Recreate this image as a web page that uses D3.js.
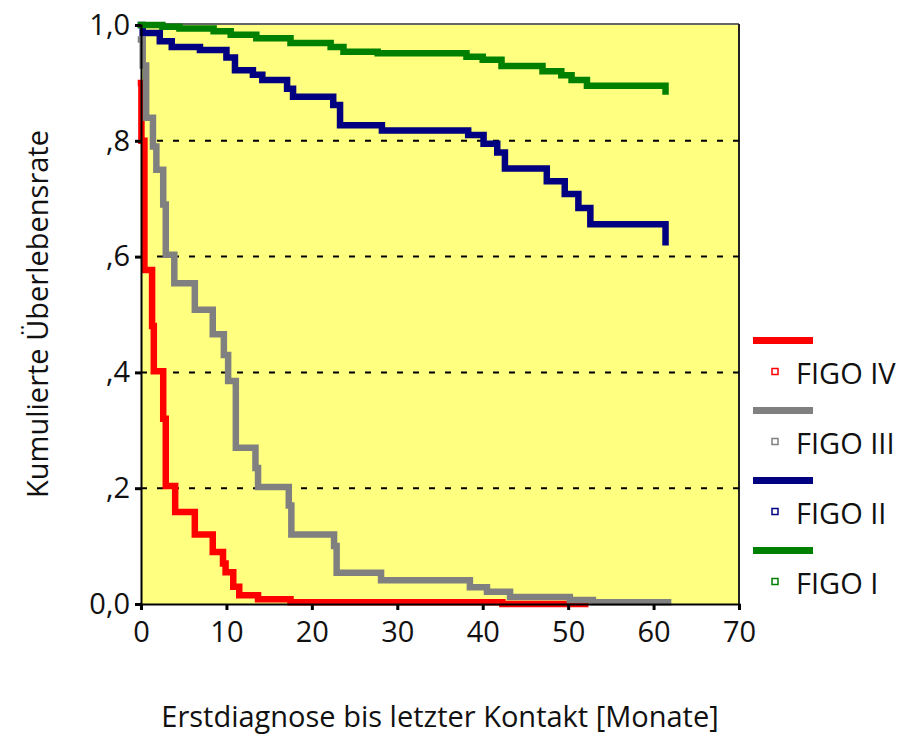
<!DOCTYPE html>
<html>
<head>
<meta charset="utf-8">
<script src="https://cdn.jsdelivr.net/npm/d3@7"></script>
<style>
  body { margin: 0; background: #fff; }
  text { font-family: "Open Sans", sans-serif; fill: #111; }
</style>
</head>
<body>
<div class="chart"></div>
<script>
// survival curves (months, cumulative survival)
var figo4Times = [0, 0.05, 0.4, 1.3, 1.5, 2.6, 2.9, 4.0, 6.3, 8.4, 9.6, 9.9, 10.8, 11.5, 13.7, 17.5, 42.3, 52];
var figo4Surv  = [0.90, 0.80, 0.577, 0.48, 0.402, 0.32, 0.204, 0.159, 0.12, 0.09, 0.07, 0.055, 0.03, 0.015, 0.008, 0.003, 0.0, 0.0];

var figo3Times = [0, 0.2, 0.6, 1.4, 1.8, 2.6, 2.9, 3.9, 6.3, 8.4, 9.7, 10.2, 11.1, 13.4, 13.7, 17.3, 17.6, 22.6, 22.9, 28.1, 38.5, 40.5, 43.2, 50.2, 52.9, 61.7];
var figo3Surv  = [0.975, 0.93, 0.84, 0.79, 0.75, 0.69, 0.603, 0.554, 0.508, 0.466, 0.43, 0.385, 0.27, 0.235, 0.202, 0.17, 0.12, 0.10, 0.054, 0.041, 0.029, 0.021, 0.012, 0.007, 0.003, 0.003];

var figo2Times = [0, 0.2, 2.2, 3.6, 6.9, 10.0, 11.0, 13.1, 14.2, 17.1, 17.8, 22.5, 23.3, 28.2, 38.3, 40.1, 41.7, 42.6, 47.5, 49.6, 51.2, 52.6, 61.4];
var figo2Surv  = [1.0, 0.986, 0.972, 0.962, 0.957, 0.944, 0.922, 0.914, 0.905, 0.89, 0.876, 0.862, 0.827, 0.818, 0.81, 0.795, 0.78, 0.752, 0.73, 0.708, 0.684, 0.656, 0.625];

var figo1Times = [0, 2.5, 4.5, 8.5, 10.5, 13.5, 17.5, 22.2, 23.7, 27.7, 38.1, 40, 42.2, 47, 49.2, 50.4, 52.2, 61.4];
var figo1Surv  = [1.0, 0.997, 0.994, 0.989, 0.983, 0.977, 0.969, 0.962, 0.954, 0.951, 0.945, 0.94, 0.929, 0.92, 0.913, 0.905, 0.895, 0.885];

var groupNames  = ["FIGO IV", "FIGO III", "FIGO II", "FIGO I"];
var groupColors = ["#ff0000", "#808080", "#000080", "#008000"];

var xTicks = [0, 10, 20, 30, 40, 50, 60, 70];
var yTicks = [0, 0.2, 0.4, 0.6, 0.8, 1.0];
var yTickLabels = ["0,0", ",2", ",4", ",6", ",8", "1,0"];
var gridValues = [0.2, 0.4, 0.6, 0.8];

var svgWidth = 903;
var svgHeight = 736;

var margin = { top: 25, right: 164, bottom: 132, left: 141 };
var chartWidth = svgWidth - margin.left - margin.right;
var chartHeight = svgHeight - margin.top - margin.bottom;

var svg = d3.select(".chart")
  .append("svg")
  .attr("width", svgWidth)
  .attr("height", svgHeight);

var chartGroup = svg.append("g")
  .attr("transform", `translate(${margin.left}, ${margin.top})`);

var x = d3.scaleLinear().domain([0, 70]).range([0, chartWidth]);
var y = d3.scaleLinear().domain([0, 1]).range([chartHeight, 0]);

// yellow plot area
chartGroup.append("rect")
  .attr("x", 0).attr("y", -1)
  .attr("width", chartWidth).attr("height", chartHeight + 1)
  .attr("fill", "#ffff80");

// top and right frame
chartGroup.append("line")
  .attr("x1", 0).attr("x2", chartWidth).attr("y1", -1).attr("y2", -1)
  .attr("stroke", "#666").attr("stroke-width", 2);
chartGroup.append("line")
  .attr("x1", chartWidth).attr("x2", chartWidth).attr("y1", -1).attr("y2", chartHeight)
  .attr("stroke", "#222").attr("stroke-width", 2);

// dashed grid
chartGroup.selectAll(".grid")
  .data(gridValues)
  .enter()
  .append("line")
  .attr("class", "grid")
  .attr("x1", 0).attr("x2", chartWidth)
  .attr("y1", d => y(d)).attr("y2", d => y(d))
  .attr("stroke", "#000")
  .attr("stroke-width", 2)
  .attr("stroke-dasharray", "6,10");

// curves
var series = [
  { times: figo4Times, surv: figo4Surv },
  { times: figo3Times, surv: figo3Surv },
  { times: figo2Times, surv: figo2Surv },
  { times: figo1Times, surv: figo1Surv }
];

var stepLine = d3.line()
  .x(d => x(d[0]))
  .y(d => y(d[1]))
  .curve(d3.curveStepAfter);

series.forEach(function(s, i) {
  var pts = s.times.map((t, j) => [t, s.surv[j]]);
  chartGroup.append("path")
    .attr("d", stepLine(pts))
    .attr("fill", "none")
    .attr("stroke", groupColors[i])
    .attr("stroke-width", 6.5)
    .attr("stroke-linejoin", "miter")
    .attr("stroke-linecap", "square");
});

// axes
var leftAxis = d3.axisLeft(y)
  .tickValues(yTicks)
  .tickSize(6)
  .tickPadding(5)
  .tickFormat((d, i) => yTickLabels[i]);

var bottomAxis = d3.axisBottom(x)
  .tickValues(xTicks)
  .tickSize(6)
  .tickPadding(11)
  .tickFormat(d3.format("d"));

var yAxisG = chartGroup.append("g").call(leftAxis);
var xAxisG = chartGroup.append("g")
  .attr("transform", `translate(0, ${chartHeight})`)
  .call(bottomAxis);

[yAxisG, xAxisG].forEach(function(g) {
  g.select(".domain").attr("stroke", "#000").attr("stroke-width", 2);
  g.selectAll(".tick line").attr("stroke", "#000").attr("stroke-width", 3);
  g.selectAll(".tick text")
    .attr("font-size", 29)
    .attr("font-family", "Open Sans, sans-serif")
    .attr("fill", "#111");
});

// axis titles
svg.append("text")
  .attr("transform", "translate(48, 314) rotate(-90)")
  .attr("text-anchor", "middle")
  .attr("font-size", 29)
  .text("Kumulierte Überlebensrate");

svg.append("text")
  .attr("x", 440)
  .attr("y", 727)
  .attr("text-anchor", "middle")
  .attr("font-size", 29)
  .text("Erstdiagnose bis letzter Kontakt [Monate]");

// legend
var legend = svg.append("g");
groupNames.forEach(function(name, i) {
  var ly = 340.5 + i * 70;
  legend.append("line")
    .attr("x1", 753).attr("x2", 813)
    .attr("y1", ly).attr("y2", ly)
    .attr("stroke", groupColors[i])
    .attr("stroke-width", 7);
  legend.append("rect")
    .attr("x", 772).attr("y", ly + 28)
    .attr("width", 6).attr("height", 6)
    .attr("fill", "none")
    .attr("stroke", groupColors[i])
    .attr("stroke-width", 1.5);
  legend.append("text")
    .attr("x", 796)
    .attr("y", ly + 43)
    .attr("font-size", 29)
    .text(name);
});
</script>
</body>
</html>
